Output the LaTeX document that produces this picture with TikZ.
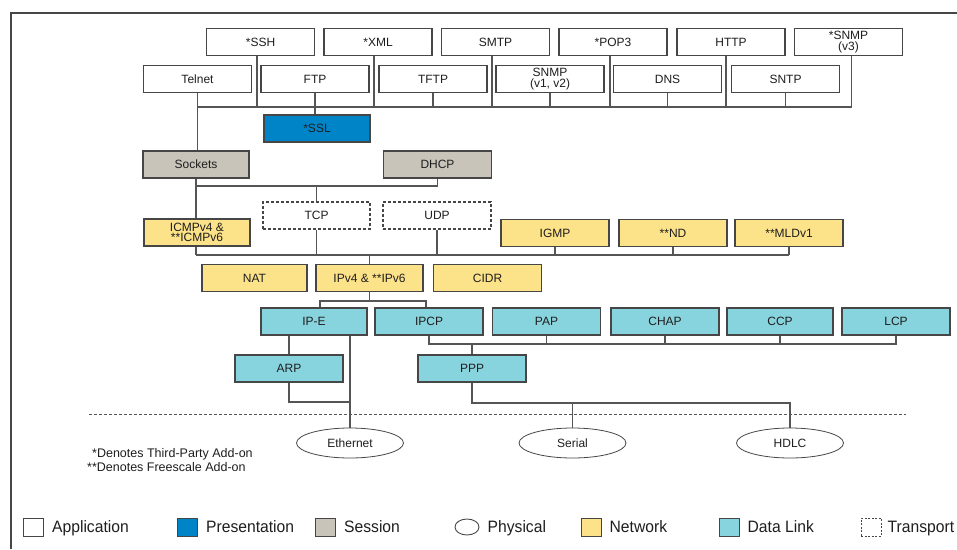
\documentclass[tikz,border=0pt]{standalone}
\usepackage{fontspec}
\setmainfont{Liberation Sans}
\newfontfamily\legfont[FakeStretch=0.95]{Liberation Sans}
\usetikzlibrary{backgrounds,shapes.geometric,positioning}

\definecolor{netyellow}{RGB}{252,226,136}
\definecolor{dlcyan}{RGB}{136,212,222}
\definecolor{sessgrey}{RGB}{200,196,186}
\definecolor{presblue}{RGB}{0,132,200}
\definecolor{edgegrey}{RGB}{70,70,70}
\definecolor{linegrey}{RGB}{85,85,85}
\definecolor{textdark}{RGB}{30,30,30}

\begin{document}
\begin{tikzpicture}[x=1pt,y=-1pt,auto]
\tikzstyle{block} = [rectangle, draw=edgegrey, line width=1.1pt, text=textdark,
minimum width=108pt, minimum height=27pt, align=center, inner sep=1pt,
font=\fontsize{12}{10.5}\selectfont]
\tikzstyle{app} = [block, fill=white]
\tikzstyle{pres} = [block, fill=presblue]
\tikzstyle{sess} = [block, fill=sessgrey]
\tikzstyle{net} = [block, fill=netyellow]
\tikzstyle{dl} = [block, fill=dlcyan]
\tikzstyle{transport} = [block, fill=white, dash pattern=on 3pt off 2pt];
\tikzstyle{phys} = [ellipse, draw=edgegrey, line width=0.8pt, fill=white, text=textdark,
minimum width=107pt, minimum height=30pt, inner sep=0pt, font=\fontsize{12}{10.5}\selectfont]
\tikzstyle{line} = [draw=linegrey, line width=1.2pt];
\tikzstyle{legbox} = [rectangle, draw=edgegrey, line width=0.9pt, minimum width=20pt,
minimum height=18pt, inner sep=0pt]
\tikzstyle{legtext} = [font=\legfont\fontsize{16.5}{16.5}\selectfont, text=textdark,
inner sep=0pt, text height=11.9pt, text depth=0pt]

\useasboundingbox (0,0) rectangle (957,549);
\draw[edgegrey, line width=1.2pt] (11,549) -- (11,13) -- (957,13);

% application layer
\node [app] (ssh) at (260.5,42) {*SSH};
\node [app] (xml) at (378,42) {*XML};
\node [app] (smtp) at (495.5,42) {SMTP};
\node [app] (pop) at (613,42) {*POP3};
\node [app] (http) at (731,42) {HTTP};
\node [app] (snmpv3) at (848.5,42) {*SNMP\\(v3)};
\node [app] (telnet) at (197.5,79) {Telnet};
\node [app] (ftp) at (315,79) {FTP};
\node [app] (tftp) at (433,79) {TFTP};
\node [app] (snmp) at (550,79) {SNMP\\(v1, v2)};
\node [app] (dns) at (667.5,79) {DNS};
\node [app] (sntp) at (785.5,79) {SNTP};
\node [pres, minimum width=106pt] (ssl) at (317,128.5) {*SSL};

% session and transport
\node [sess, minimum width=106pt] (sockets) at (196,164.5) {Sockets};
\node [sess] (dhcp) at (437.5,164.5) {DHCP};
\node [transport, minimum width=107pt] (tcp) at (316.5,215.5) {TCP};
\node [transport] (udp) at (437,215.5) {UDP};

% network layer
\node [net, minimum width=106pt] (icmp) at (197,232.5) {ICMPv4 \&\\**ICMPv6};
\node [net] (igmp) at (555,233) {IGMP};
\node [net] (nd) at (673,233) {**ND};
\node [net] (mld) at (789,233) {**MLDv1};
\node [net, minimum width=105pt] (nat) at (254.5,278) {NAT};
\node [net, minimum width=107pt] (ip) at (369.5,278) {IPv4 \& **IPv6};
\node [net] (cidr) at (487.5,278) {CIDR};

% data link layer
\node [dl, minimum width=106pt] (ipe) at (314,321.5) {IP-E};
\node [dl] (ipcp) at (429,321.5) {IPCP};
\node [dl] (pap) at (546.5,321.5) {PAP};
\node [dl] (chap) at (665,321.5) {CHAP};
\node [dl, minimum width=106pt] (ccp) at (780,321.5) {CCP};
\node [dl] (lcp) at (896,321.5) {LCP};
\node [dl] (arp) at (289,368.5) {ARP};
\node [dl] (ppp) at (472,368.5) {PPP};

% physical layer
\node [phys] (ether) at (350,443) {Ethernet};
\node [phys] (serial) at (572.5,443) {Serial};
\node [phys] (hdlc) at (790,443) {HDLC};

\coordinate (appbus) at (0,107);
\coordinate (sessbus) at (0,186);
\coordinate (netbus) at (0,255);
\coordinate (ipbus) at (0,301);
\coordinate (pppbus) at (0,344);
\coordinate (ethbus) at (0,402);
\coordinate (serbus) at (0,403);

\begin{scope}[on background layer]
\tikzstyle{every path}=[line]
\foreach \n/\dx in {ssh/-3.5,xml/-4,smtp/-3.5,pop/-3,http/-5,snmpv3/3}
  \path ([xshift=\dx]\n.south) -- ([xshift=\dx]\n.south |- appbus);
\foreach \n in {tftp,snmp,dns,sntp}
  \path (\n.south) -- (\n.south |- appbus);
\path (telnet.south |- appbus) -- ([xshift=3]snmpv3.south |- appbus);
\path (telnet.south) -- (telnet.south |- sockets.north);
\path (ftp.south) -- (ftp.south |- ssl.north);
\path (sockets.south) -- (sockets.south |- netbus);
\path (sockets.south |- sessbus) -- (dhcp.south |- sessbus);
\path (dhcp.south) -- (dhcp.south |- sessbus);
\path (tcp.north) -- (tcp.north |- sessbus);
\path (sockets.south |- netbus) -- (mld.south |- netbus);
\foreach \n in {tcp,udp,igmp,nd,mld}
  \path (\n.south) -- (\n.south |- netbus);
\path (ip.north) -- (ip.north |- netbus);
\path (ip.south) -- (ip.south |- ipbus);
\path ([xshift=6]ipe.north) |- ([xshift=-3]ipcp.north |- ipbus) -- ([xshift=-3]ipcp.north);
\path (ipcp.south) |- (lcp.south |- pppbus) -- (lcp.south);
\foreach \n in {pap,chap,ccp}
  \path (\n.south) -- (\n.south |- pppbus);
\path (ppp.north) -- (ppp.north |- pppbus);
\path (arp.north) -- (arp.north |- ipe.south);
\path (ether.north) -- (ether.north |- ipe.south);
\path (arp.south) |- (ether.north |- ethbus);
\path (ppp.south) |- (hdlc.north |- serbus) -- (hdlc.north);
\path (serial.north) -- (serial.north |- serbus);
\end{scope}

\draw[linegrey, line width=1pt, dash pattern=on 3pt off 2pt] (89,414) -- (906,414);

% notes
\node [anchor=west, inner sep=0pt, text=textdark, font=\fontsize{12.5}{13}\selectfont] (note1) at (92,454) {*Denotes Third-Party Add-on};
\node [anchor=west, inner sep=0pt, text=textdark, font=\fontsize{12.5}{13}\selectfont] (note2) at (87,467) {**Denotes Freescale Add-on};

% legend
\node [legbox, fill=white] (lapp) at (33.5,527) {};
\node [legtext, right=8pt of lapp] (tapp) {Application};
\node [legbox, fill=presblue] (lpres) at (187.5,527) {};
\node [legtext, right=8pt of lpres] (tpres) {Presentation};
\node [legbox, fill=sessgrey] (lsess) at (325.5,527) {};
\node [legtext, right=8pt of lsess] (tsess) {Session};
\node [ellipse, draw=edgegrey, line width=0.9pt, minimum width=24pt, minimum height=16pt, inner sep=0pt] (lphys) at (467,527) {};
\node [legtext, right=8pt of lphys] (tphys) {Physical};
\node [legbox, fill=netyellow] (lnet) at (591,527) {};
\node [legtext, right=8pt of lnet] (tnet) {Network};
\node [legbox, fill=dlcyan] (ldl) at (729,527) {};
\node [legtext, right=8pt of ldl] (tdl) {Data Link};
\node [legbox, dash pattern=on 2pt off 1.5pt] (ltrans) at (871,527) {};
\node [legtext, right=6pt of ltrans] (ttrans) {Transport};
\end{tikzpicture}
\end{document}
